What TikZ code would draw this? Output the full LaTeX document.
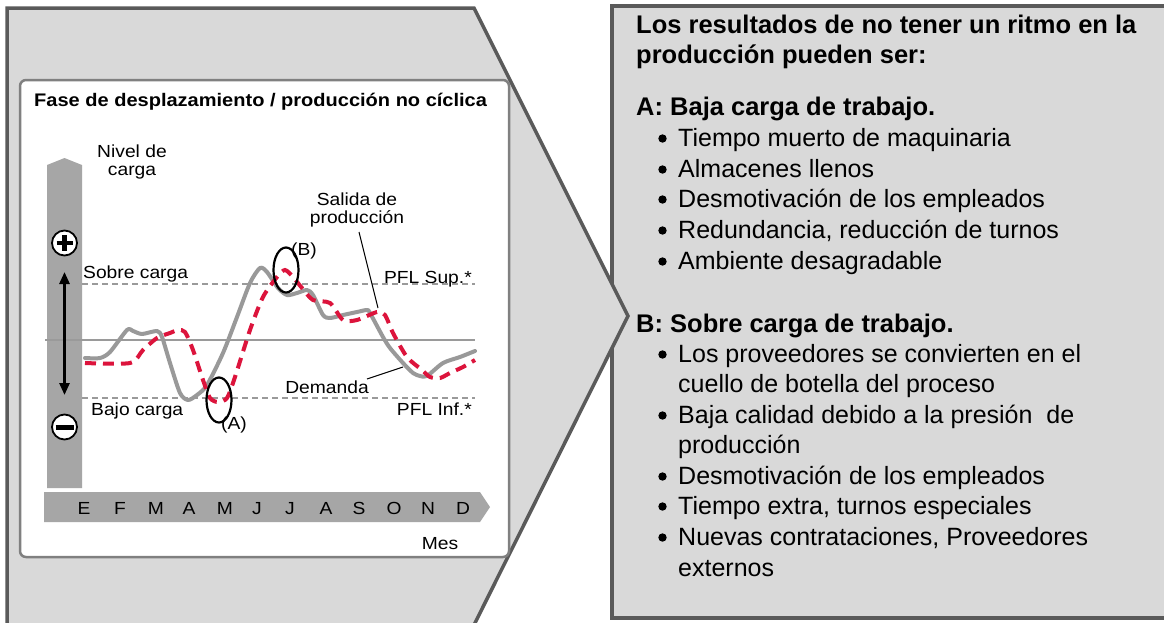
\documentclass[tikz,border=0pt]{standalone}
\usepackage{fontspec}
\setmainfont{Liberation Sans}
\newfontfamily\lf{Liberation Sans}[FakeStretch=1.1]
\usetikzlibrary{arrows.meta,calc,shapes.geometric}
\definecolor{panel}{HTML}{D9D9D9}
\definecolor{bordercol}{HTML}{5A5A5A}
\definecolor{barcol}{HTML}{A6A6A6}
\definecolor{curvecol}{HTML}{999999}
\definecolor{prodcol}{HTML}{DC143C}
\definecolor{guidecol}{HTML}{9A9A9A}
\definecolor{framecol}{HTML}{808080}
\tikzset{
  panelbox/.style={draw=bordercol, fill=panel, line width=3.5pt, line join=miter},
  rt/.style={anchor=base west, inner sep=0pt, font=\fontsize{25}{30}\selectfont},
  rtb/.style={rt, font=\fontsize{25.5}{30}\selectfont\bfseries},
  lt/.style={inner sep=0pt, font=\lf\fontsize{17.5}{19}\selectfont},
  guide/.style={draw=guidecol, line width=1.2pt, dash pattern=on 6pt off 4pt},
  mid/.style={draw=guidecol, line width=1.5pt},
  demand/.style={draw=curvecol, line width=4pt, line join=round, line cap=round},
  prodline/.style={draw=prodcol, line width=4pt, dash pattern=on 11pt off 7pt},
  ring/.style={ellipse, draw=black, line width=2.2pt, minimum width=25pt, minimum height=45pt, inner sep=0pt},
  sign/.style={circle, draw=black, fill=white, line width=1.8pt, minimum size=25pt, inner sep=0pt},
  leader/.style={draw=black, line width=1pt},
}
\begin{document}
\begin{tikzpicture}[x=1pt,y=-1pt]
\useasboundingbox (0,0) rectangle (1164,622);
\fill[white] (0,0) rectangle (1164,622);

% right panel
\draw[panelbox] (612,6) rectangle (1185,618);
% left panel (chevron)
\draw[panelbox] (7,645) -- (7,8) -- (474,8) -- (628,316) -- (464,645);

% inner chart card
\draw[draw=framecol, fill=white, line width=2.5pt, rounded corners=6pt] (20,80) rectangle (509,557);

\node[lt, font=\lf\fontsize{18.2}{19}\selectfont\bfseries, anchor=base west] (title) at (34,106) {Fase de desplazamiento / producción no cíclica};

% bars
\fill[barcol] (47,488) -- (47,165) -- (64.5,158) -- (82,165) -- (82,488) -- cycle;
\fill[barcol] (44,492) -- (480,492) -- (490,507) -- (480,522) -- (44,522) -- cycle;

% guide lines
\draw[guide] (82,284) -- (475,284);
\draw[mid] (45,340) -- (475,340);
\draw[guide] (82,398) -- (475,398);

% demand curve
\draw[demand] plot[smooth, tension=0.45] coordinates {(85,358) (100,358) (110,352) (127,330) (133,331) (142,334) (157,331) (162,337) (170,363) (180,393) (188,400) (197,395) (207,385) (223,353) (237,317) (250,283) (260,268) (267,272) (278,288) (287,295) (297,293) (307,290) (313,295) (323,315) (330,318) (343,315) (357,312) (367,310) (370,313) (383,337) (390,348) (403,363) (413,373) (420,376) (427,376) (443,363) (460,357) (475,351)};
% production curve
\draw[prodline] plot[smooth, tension=0.45] coordinates {(85,363) (130,363) (143,350) (157,338) (170,333) (178,330) (185,332) (193,350) (203,380) (210,398) (218,402) (227,398) (235,377) (250,330) (263,297) (277,277) (285,270) (293,277) (302,288) (313,300) (330,303) (343,320) (357,320) (377,312) (385,315) (393,333) (407,357) (422,370) (430,377) (440,378) (450,373) (463,367) (475,360)};

% plus / minus
\node[sign] (plus) at (64.5,243) {};
\draw[line width=4.5pt] ($(plus)+(-8,0)$) -- ($(plus)+(8,0)$);
\draw[line width=4.5pt] ($(plus)+(0,-8)$) -- ($(plus)+(0,8)$);
\node[sign] (minus) at (64.5,427) {};
\draw[line width=5pt] ($(minus)+(-9,0)$) -- ($(minus)+(9,0)$);

% double arrow
\coordinate (aup) at (64.5,272);
\coordinate (adn) at (64.5,395);
\draw[line width=2.6pt, {Triangle[width=10pt,length=12pt]}-{Triangle[width=10pt,length=12pt]}] (aup) -- (adn);

% left texts
\node[lt, anchor=base] (nivel) at (132,157) {Nivel de};
\node[lt, anchor=base] (carga) at (132,175) {carga};
\node[lt, anchor=base] (salida) at (357,205) {Salida de};
\node[lt, anchor=base] (produccion) at (357,223) {producción};
\node[lt, anchor=base west] (sobre) at (83,278) {Sobre carga};
\node[lt, anchor=base east] (pflsup) at (472,283) {PFL Sup.*};
\node[lt, anchor=base west] (bajo) at (91,415) {Bajo carga};
\node[lt, anchor=base east] (pflinf) at (472,415) {PFL Inf.*};
\node[lt, anchor=base] (demanda) at (327,393) {Demanda};
\node[lt, anchor=base] (la) at (234,429) {(A)};
\node[lt, anchor=base] (lb) at (304,255) {(B)};
\node[lt, anchor=base] (mes) at (440,549) {Mes};

% rings
\node[ring] (ringA) at (219,400) {};
\node[ring] (ringB) at (286,270) {};

% leaders
\coordinate (s1) at (359,232);
\coordinate (s2) at (378,308);
\draw[leader] (s1) -- (s2);
\coordinate (d1) at (367,379);
\coordinate (d2) at (403,367);
\draw[leader] (d1) -- (d2);

% months
\foreach \m/\x [count=\i] in {E/84,F/120,M/156,A/189,M/225,J/257,J/290,A/326,S/359,O/394,N/428,D/463}{
  \node[lt, anchor=base] (m\i) at (\x,514) {\m};
}

% right texts
\node[rtb] (h1) at (636,33) {Los resultados de no tener un ritmo en la};
\node[rtb] (h2) at (636,63) {producción pueden ser:};
\node[rtb] (ha) at (636,115) {A: Baja carga de trabajo.};
\node[rt] (a1) at (678,146) {Tiempo muerto de maquinaria};
\node[rt] (a2) at (678,177) {Almacenes llenos};
\node[rt] (a3) at (678,207) {Desmotivación de los empleados};
\node[rt] (a4) at (678,238) {Redundancia, reducción de turnos};
\node[rt] (a5) at (678,269) {Ambiente desagradable};
\node[rtb] (hb) at (636,332) {B: Sobre carga de trabajo.};
\node[rt] (b1) at (678,362) {Los proveedores se convierten en el};
\node[rt] (b1b) at (678,392) {cuello de botella del proceso};
\node[rt] (b2) at (678,423) {Baja calidad debido a la presión\ \ de};
\node[rt] (b2b) at (678,453) {producción};
\node[rt] (b3) at (678,484) {Desmotivación de los empleados};
\node[rt] (b4) at (678,514) {Tiempo extra, turnos especiales};
\node[rt] (b5) at (678,545) {Nuevas contrataciones, Proveedores};
\node[rt] (b5b) at (678,576) {externos};
% bullet dots
\foreach \n in {a1,a2,a3,a4,a5,b1,b2,b3,b4,b5}{
  \fill[black] ($(\n.base west)+(-15.5,-7.5)$) circle (4.2pt);
}
\end{tikzpicture}
\end{document}
